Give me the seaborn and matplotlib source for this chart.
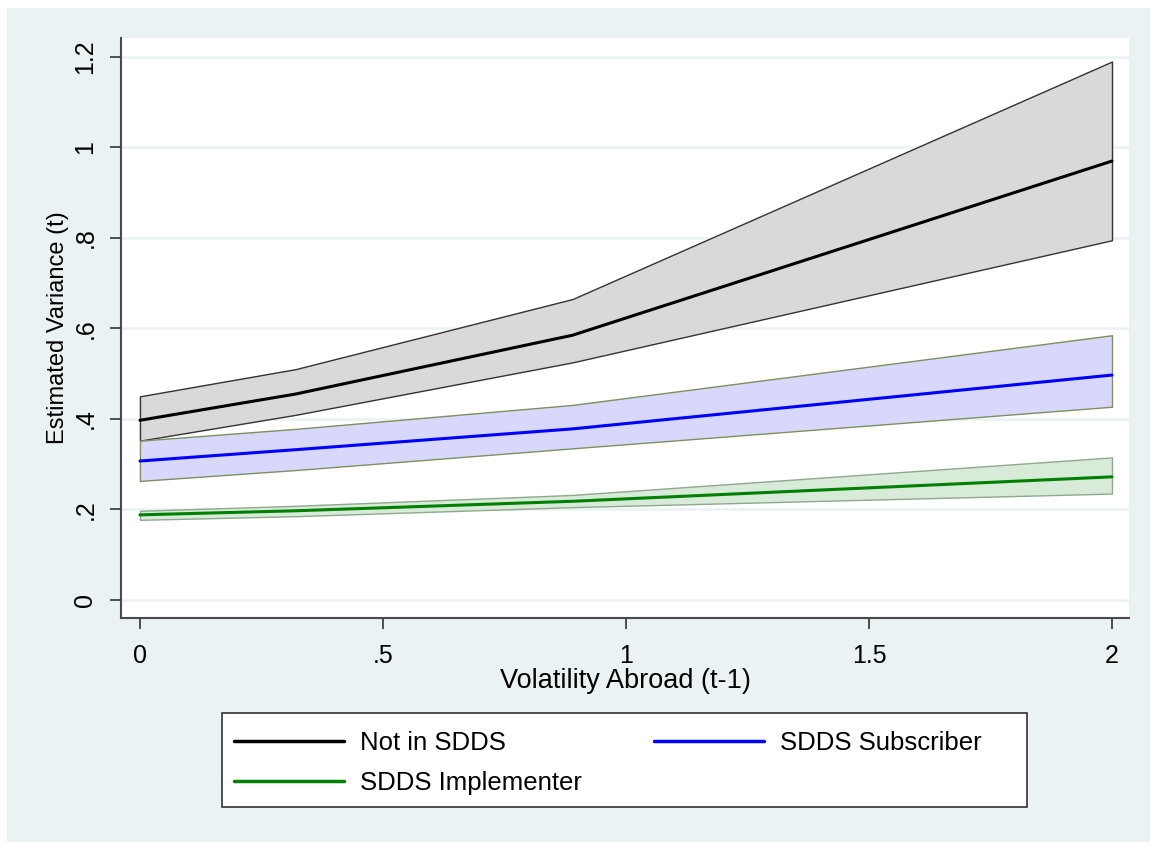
import matplotlib
matplotlib.use("Agg")
import matplotlib.pyplot as plt
import matplotlib.patches as mpatches
import numpy as np
import pandas as pd
import seaborn as sns

# values
vol = [0, 0.32, 0.89, 2]
groups = ["Not in SDDS", "SDDS Subscriber", "SDDS Implementer"]
not_mid = [0.397, 0.455, 0.585, 0.970]
not_lo = [0.352, 0.409, 0.525, 0.795]
not_hi = [0.450, 0.510, 0.665, 1.190]
sub_mid = [0.307, 0.332, 0.378, 0.497]
sub_lo = [0.263, 0.287, 0.335, 0.427]
sub_hi = [0.352, 0.378, 0.431, 0.585]
imp_mid = [0.188, 0.197, 0.218, 0.272]
imp_lo = [0.177, 0.185, 0.205, 0.235]
imp_hi = [0.197, 0.208, 0.232, 0.315]

df = pd.DataFrame({
    "vol": vol * 3,
    "est": not_mid + sub_mid + imp_mid,
    "lo": not_lo + sub_lo + imp_lo,
    "hi": not_hi + sub_hi + imp_hi,
    "group": [g for g in groups for _ in vol],
})

line_cols = {"Not in SDDS": "black", "SDDS Subscriber": "#0000ff", "SDDS Implementer": "#008000"}
fill_cols = {"Not in SDDS": "#d9d9d9", "SDDS Subscriber": "#d8d8fc", "SDDS Implementer": "#d8ead8"}
edge_cols = {"Not in SDDS": "#333333", "SDDS Subscriber": "#7f8f5f", "SDDS Implementer": "#8fa88f"}

sns.set_style("white")
plt.rcParams['font.family'] = ['Liberation Sans', 'DejaVu Sans']
plt.rcParams['text.color'] = 'black'
plt.rcParams['axes.labelcolor'] = 'black'
plt.rcParams['xtick.color'] = 'black'
plt.rcParams['ytick.color'] = 'black'

W, H = 1150, 842
fig = plt.figure(figsize=(W / 100, H / 100), dpi=100, facecolor="white")
fig.patches.append(mpatches.Rectangle((7 / W, 0), 1, 1 - 8 / H, transform=fig.transFigure,
                                      facecolor="#eaf2f3", edgecolor="none", zorder=-10))
ax = fig.add_axes([121 / W, 1 - 618 / H, (1129 - 121) / W, (618 - 38) / H])
ax.set_facecolor("white")

for g in groups:
    d = df[df.group == g]
    ax.fill_between(d.vol, d.lo, d.hi, facecolor=fill_cols[g], edgecolor=edge_cols[g],
                    linewidth=1, zorder=1)

sns.lineplot(data=df, x="vol", y="est", hue="group", palette=line_cols, hue_order=groups,
             linewidth=2.2, ax=ax, legend=False, zorder=3)

ax.set_xlim(-0.039, 2.035)
ax.set_ylim(-0.04, 1.242)
ax.set_xticks([0, 0.5, 1, 1.5, 2])
ax.set_xticklabels(["0", ".5", "1", "1.5", "2"])
ax.set_yticks([0, 0.2, 0.4, 0.6, 0.8, 1.0, 1.2])
ax.set_yticklabels(["0", ".2", ".4", ".6", ".8", "1", "1.2"], rotation=90, va="center")
ax.yaxis.grid(True, color="#eaf2f3", linewidth=1.8, zorder=0)
ax.set_axisbelow(True)
for s in ["top", "right"]:
    ax.spines[s].set_visible(False)
for s in ["left", "bottom"]:
    ax.spines[s].set_color("#4a4a4a")
    ax.spines[s].set_linewidth(1.5)
ax.tick_params(axis="both", direction="out", length=8, width=1.2, color="#333333",
               labelsize=18, left=True, bottom=True)
ax.tick_params(axis="x", pad=11)
ax.tick_params(axis="y", pad=9)
ax.set_xlabel("Volatility Abroad (t-1)", fontsize=19.5, labelpad=0)
ax.set_ylabel("Estimated Variance (t)", fontsize=17, labelpad=3)

# legend box drawn as a plain rectangle, entries placed inside it
fig.patches.append(mpatches.Rectangle((222 / W, 1 - 807 / H), (1027 - 222) / W, (807 - 713) / H,
                                      transform=fig.transFigure, facecolor="white",
                                      edgecolor="#333333", linewidth=1.2, zorder=5))
handles = [plt.Line2D([], [], color=line_cols[g], linewidth=2.5) for g in groups]
# column-first fill: order so Implementer sits under Not in SDDS
order = [0, 2, 1]
leg = fig.legend([handles[i] for i in order], [groups[i] for i in order], ncol=2,
                 loc="upper left", bbox_to_anchor=(234 / W, 1 - 731 / H),
                 frameon=False, fontsize=18.5, borderpad=0, borderaxespad=0,
                 handlelength=4.3, handletextpad=0.6, labelspacing=0.62,
                 columnspacing=2.8)
leg.set_zorder(6)

fig.savefig("out.png", dpi=100, facecolor=fig.get_facecolor())
